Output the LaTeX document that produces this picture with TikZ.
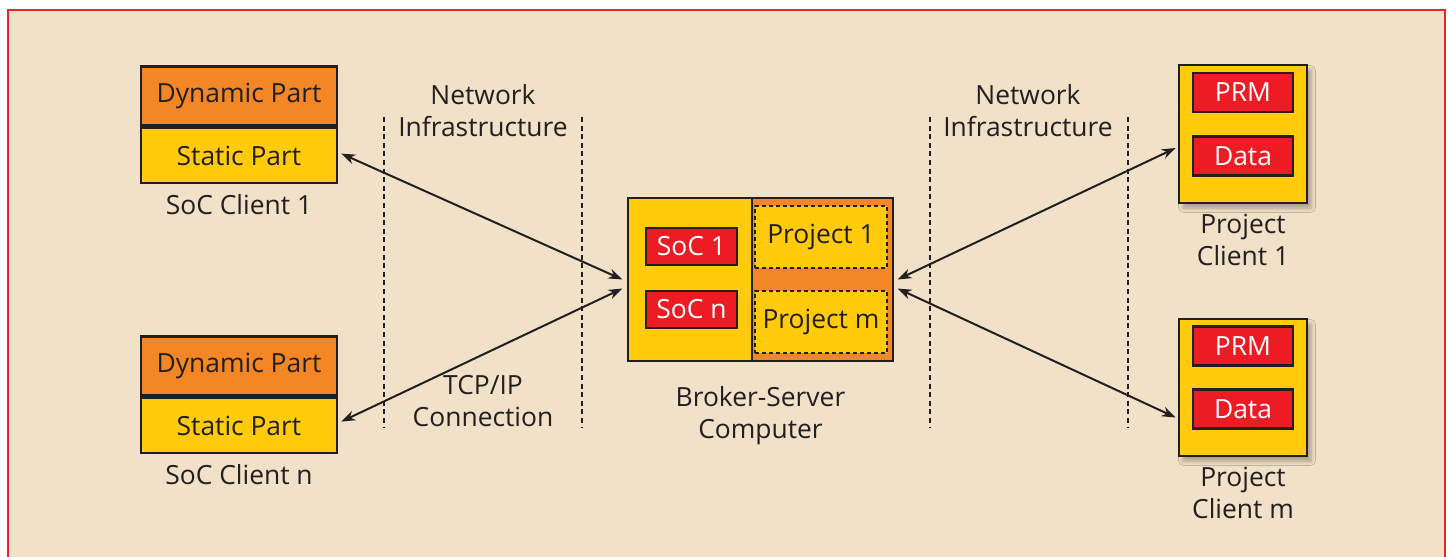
\documentclass[tikz,border=0pt]{standalone}
\usepackage{fontspec}
\setmainfont{Open Sans}
\usepackage{tikz}
\usetikzlibrary{arrows.meta,positioning,fit,backgrounds,shadows.blur}
\definecolor{beige}{HTML}{F1E1C8}
\definecolor{frame}{HTML}{E8262D}
\definecolor{ink}{HTML}{231F20}
\definecolor{orangepart}{HTML}{F38625}
\definecolor{yellowpart}{HTML}{FFCB0B}
\definecolor{redtag}{HTML}{ED1C24}

\begin{document}
\begin{tikzpicture}[
    x=0.5pt, y=-0.5pt,
    font=\fontsize{13.2}{16}\selectfont, text=ink,
    part/.style={draw=ink, line width=1.3pt, minimum width=98pt, inner sep=0pt},
    dynpart/.style={part, fill=orangepart, minimum height=29.5pt},
    statpart/.style={part, fill=yellowpart, minimum height=27.5pt},
    tag/.style={draw=ink, line width=1.1pt, fill=redtag, text=white, inner sep=0pt,
                minimum width=50pt, minimum height=19.5pt},
    pclient/.style={draw=ink, line width=1.3pt, fill=yellowpart, inner sep=0pt,
                    minimum width=64pt, minimum height=69pt, shade box},
    projbox/.style={draw=ink, line width=0.9pt, dash pattern=on 2pt off 1.5pt, fill=yellowpart,
                    inner sep=0pt, minimum width=66pt, minimum height=31pt},
    shade box/.style={blur shadow={shadow xshift=2pt, shadow yshift=-2.5pt,
                      shadow blur steps=6, shadow opacity=30}},
    caption/.style={align=center},
    netline/.style={ink, line width=1.2pt, dash pattern=on 2.5pt off 1.8pt},
    link/.style={{Stealth[length=7pt,width=5pt]}-{Stealth[length=7pt,width=5pt]}, ink, line width=1pt}
]
    \useasboundingbox (0,0) rectangle (1448,557);
    \draw[frame, line width=1.3pt, fill=beige] (8,10) rectangle (1445,580);

    % network zones
    \coordinate (nlt) at (384,117);  \coordinate (nlb) at (384,427);
    \coordinate (nrt) at (582,117);  \coordinate (nrb) at (582,427);
    \coordinate (mlt) at (930,117);  \coordinate (mlb) at (930,427);
    \coordinate (mrt) at (1128,117); \coordinate (mrb) at (1128,427);
    \draw[netline] (nlt) -- (nlb);
    \draw[netline] (nrt) -- (nrb);
    \draw[netline] (mlt) -- (mlb);
    \draw[netline] (mrt) -- (mrb);
    \node[caption] (netl) at (483,111) {Network\\Infrastructure};
    \node[caption] (netr) at (1028,111) {Network\\Infrastructure};
    \node[caption] (tcp) at (483,401) {TCP/IP\\Connection};

    % SoC clients
    \node[dynpart] (sc1d) at (239,96) {Dynamic Part};
    \node[statpart, below=0pt of sc1d] (sc1s) {Static Part};
    \node[below=1.5pt of sc1s] (sc1l) {SoC Client 1};
    \node[dynpart] (scnd) at (239,366) {Dynamic Part};
    \node[statpart, below=0pt of scnd] (scns) {Static Part};
    \node[below=1.5pt of scns] (scnl) {SoC Client n};

    % broker
    \node[part, fill=yellowpart, minimum width=62pt, minimum height=81.5pt] (brkL) at (690,279.5) {};
    \node[part, fill=orangepart, minimum width=70.5pt, minimum height=81.5pt] (brkR) at (822.5,279.5) {};
    \node[tag, minimum width=45.5pt, minimum height=18.5pt] (soc1) at (691.5,246.5) {SoC 1};
    \node[tag, minimum width=45.5pt, minimum height=18.5pt] (socn) at (691.5,309.5) {SoC n};
    \node[projbox] (prj1) at (821,237) {Project 1};
    \node[projbox] (prjm) at (821,322) {Project m};

    \begin{scope}[on background layer]
        \node[fit=(sc1d)(sc1s), inner sep=0pt, draw=ink, line width=1.3pt, fill=yellowpart, shade box] (sc1) {};
        \node[fit=(scnd)(scns), inner sep=0pt, draw=ink, line width=1.3pt, fill=yellowpart, shade box] (scn) {};
        \node[fit=(brkL)(brkR), inner sep=0pt, draw=ink, line width=1.3pt, fill=yellowpart, shade box] (broker) {};
    \end{scope}
    \node[below=8pt of broker, caption] (brkl) {Broker-Server\\Computer};

    % project clients
    \node[pclient] (pc1) at (1243,134) {};
    \node[tag] (prm1) at (1243,92.5) {PRM};
    \node[tag] (dat1) at (1243,156) {Data};
    \node[below=1.5pt of pc1, caption] (pc1l) {Project\\Client 1};
    \node[pclient, minimum height=68.5pt] (pcm) at (1243,387.5) {};
    \node[tag] (prmm) at (1243,346) {PRM};
    \node[tag] (datm) at (1243,409) {Data};
    \node[below=1.5pt of pcm, caption] (pcml) {Project\\Client m};

    % connections
    \draw[link] ([xshift=1.5pt,yshift=1pt]sc1s.east) -- ([xshift=-1.5pt]broker.west);
    \draw[link] ([xshift=1.5pt,yshift=2pt]scns.east) -- ([xshift=-1.5pt,yshift=-4.5pt]broker.west);
    \draw[link] ([xshift=1pt]broker.east) -- ([xshift=-1pt,yshift=-7pt]pc1.west);
    \draw[link] ([xshift=1pt,yshift=-4.5pt]broker.east) -- ([xshift=-1pt,yshift=-15pt]pcm.west);
\end{tikzpicture}
\end{document}
